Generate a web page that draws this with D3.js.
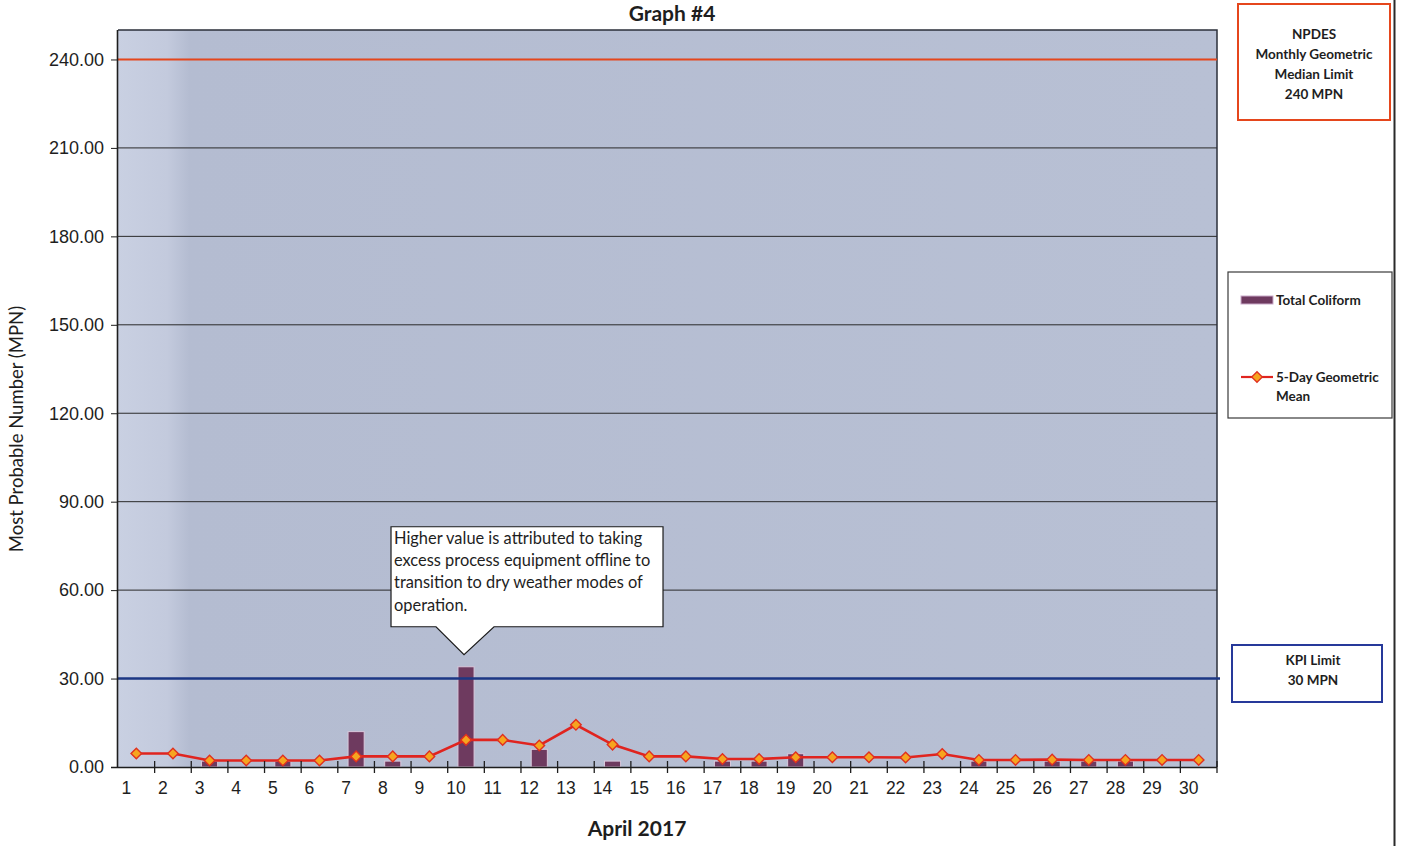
<!DOCTYPE html>
<html>
<head>
<meta charset="utf-8">
<script src="https://cdn.jsdelivr.net/npm/d3@7/dist/d3.min.js"></script>
<style>
  body { margin: 0; background: #ffffff; }
  svg { display: block; font-family: Lato, "Open Sans", "Noto Sans", sans-serif; }
</style>
</head>
<body>
<svg id="chart" width="1405" height="846"></svg>
<script>
// ---- data ----
const dayLabels = ["1","2","3","4","5","6","7","8","9","10","11","12","13","14","15",
                   "16","17","18","19","20","21","22","23","24","25","26","27","28","29","30"];
// daily Total Coliform (MPN); null = no bar shown
const totalColiform = [null, null, 2, null, 2, null, 12, 2, null, 34, null, 6, null, 2, null,
                       null, 2, 2, 4.5, null, null, null, null, 2, null, 2, 2, 2, null, null];
// 5-day geometric mean (MPN)
const geoMean5Day = [4.6, 4.6, 2.2, 2.2, 2.2, 2.2, 3.6, 3.6, 3.6, 9.2, 9.2, 7.3, 14.3, 7.6, 3.6,
                     3.6, 2.7, 2.7, 3.3, 3.3, 3.3, 3.2, 4.4, 2.4, 2.4, 2.5, 2.4, 2.4, 2.4, 2.4];
const yTickValues = [0, 30, 60, 90, 120, 150, 180, 210, 240];
const npdesLimit = 240;
const kpiLimit = 30;
const calloutDay = "10";
const calloutLines = ["Higher value is attributed to taking",
                      "excess process equipment offline to",
                      "transition to dry weather modes of",
                      "operation."];

// ---- layout ----
const plot = { left: 118, top: 30, right: 1217, bottom: 767 };
const svg = d3.select("#chart");
const ink = "#1e1e1e";

const x = d3.scaleBand().domain(dayLabels).range([plot.left, plot.right]);
const y = d3.scaleLinear().domain([0, 250]).range([plot.bottom, plot.top]);
const cx = d => x(d) + x.bandwidth() / 2;

// plot background (slightly lighter at the left edge)
const defs = svg.append("defs");
const grad = defs.append("linearGradient").attr("id", "plotBg").attr("x1", 0).attr("x2", 1);
grad.append("stop").attr("offset", "0%").attr("stop-color", "#c9d0e2");
grad.append("stop").attr("offset", "4.5%").attr("stop-color", "#c3cadd");
grad.append("stop").attr("offset", "6.5%").attr("stop-color", "#b4bcd1");
grad.append("stop").attr("offset", "100%").attr("stop-color", "#b8c0d4");

svg.append("rect")
  .attr("x", plot.left).attr("y", plot.top)
  .attr("width", plot.right - plot.left).attr("height", plot.bottom - plot.top)
  .attr("fill", "url(#plotBg)");

// horizontal gridlines
svg.append("g").selectAll("line")
  .data(yTickValues.filter(v => v > 0))
  .join("line")
  .attr("x1", plot.left).attr("x2", plot.right)
  .attr("y1", d => y(d)).attr("y2", d => y(d))
  .attr("stroke", "#2a2a2a").attr("stroke-width", 1);

// plot frame top / right
svg.append("path")
  .attr("d", `M${plot.left},${plot.top}H${plot.right}V${plot.bottom}`)
  .attr("fill", "none").attr("stroke", "#2b2f3a").attr("stroke-width", 1.5);

// Total Coliform bars
const barW = x.bandwidth() * 0.44;
svg.append("g").selectAll("rect")
  .data(dayLabels.map((d, i) => ({ day: d, v: totalColiform[i] })).filter(d => d.v != null))
  .join("rect")
  .attr("x", d => cx(d.day) - barW / 2)
  .attr("y", d => y(d.v))
  .attr("width", barW)
  .attr("height", d => y(0) - y(d.v))
  .attr("fill", "#6e3a5f")
  .attr("stroke", "#d9c9dc").attr("stroke-width", 1);

// KPI limit line
svg.append("line")
  .attr("x1", plot.left).attr("x2", plot.right + 3)
  .attr("y1", y(kpiLimit)).attr("y2", y(kpiLimit))
  .attr("stroke", "#1c3784").attr("stroke-width", 2.6);

// NPDES limit line
svg.append("line")
  .attr("x1", plot.left).attr("x2", plot.right)
  .attr("y1", y(npdesLimit)).attr("y2", y(npdesLimit))
  .attr("stroke", "#e5461c").attr("stroke-width", 2.2);

// 5-day geometric mean line + diamond markers
const meanPts = dayLabels.map((d, i) => ({ day: d, v: geoMean5Day[i] }));
svg.append("path")
  .datum(meanPts)
  .attr("fill", "none")
  .attr("stroke", "#e0241f").attr("stroke-width", 2.6)
  .attr("d", d3.line().x(d => cx(d.day)).y(d => y(d.v)));

const diamond = d3.symbol(d3.symbolSquare, 56);
svg.append("g").selectAll("path")
  .data(meanPts)
  .join("path")
  .attr("d", diamond)
  .attr("transform", d => `translate(${cx(d.day)},${y(d.v)}) rotate(45)`)
  .attr("fill", "#f6a51f").attr("stroke", "#e0301f").attr("stroke-width", 1.4);

// y axis
const yAxis = svg.append("g")
  .attr("transform", `translate(${plot.left},0)`)
  .call(d3.axisLeft(y).tickValues(yTickValues).tickFormat(d3.format(".2f")).tickSize(7).tickPadding(7));
yAxis.select(".domain").attr("stroke", ink).attr("stroke-width", 1.6)
  .attr("d", `M-0.5,${plot.top}V${plot.bottom}`);
yAxis.selectAll(".tick line").attr("stroke", ink);
yAxis.selectAll(".tick text").attr("fill", ink).style("font-size", "18px");

// x axis: labels under each day, crossing ticks at category boundaries
const xAxis = svg.append("g")
  .attr("transform", `translate(0,${plot.bottom})`)
  .call(d3.axisBottom(x).tickSize(0).tickPadding(15));
xAxis.select(".domain").attr("stroke", ink).attr("stroke-width", 1.6)
  .attr("d", `M${plot.left - 7},0.5H${plot.right}`);
xAxis.selectAll(".tick text").attr("fill", ink).attr("dx", -10).style("font-size", "17.5px");
xAxis.append("g").selectAll("line")
  .data(dayLabels)
  .join("line")
  .attr("x1", d => x(d) + x.bandwidth()).attr("x2", d => x(d) + x.bandwidth())
  .attr("y1", -6).attr("y2", 6)
  .attr("stroke", ink).attr("stroke-width", 1.3);

// axis titles
svg.append("text")
  .attr("transform", "translate(23,429) rotate(-90)")
  .attr("text-anchor", "middle")
  .attr("fill", ink).style("font-size", "18.5px")
  .text("Most Probable Number (MPN)");

svg.append("text")
  .attr("x", 637).attr("y", 836)
  .attr("text-anchor", "middle")
  .attr("fill", ink).style("font-size", "21px").style("font-weight", "bold")
  .text("April 2017");

// chart title
svg.append("text")
  .attr("x", 672).attr("y", 21)
  .attr("text-anchor", "middle")
  .attr("fill", ink).style("font-size", "21px").style("font-weight", "bold")
  .text("Graph #4");

// callout pointing at the highest bar
const tipX = cx(calloutDay) - 2;
const tipY = y(totalColiform[dayLabels.indexOf(calloutDay)]) - 12;
const box = { x: tipX - 73, y: tipY - 128, w: 272, h: 100 };
const co = svg.append("g");
co.append("path")
  .attr("d", `M${box.x},${box.y}H${box.x + box.w}V${box.y + box.h}H${tipX + 30}L${tipX},${tipY}L${tipX - 28},${box.y + box.h}H${box.x}Z`)
  .attr("fill", "#ffffff").attr("stroke", "#1a1a1a").attr("stroke-width", 1.2);
co.selectAll("text")
  .data(calloutLines)
  .join("text")
  .attr("x", box.x + 3)
  .attr("y", (d, i) => box.y + 17 + i * 22.3)
  .attr("fill", ink).style("font-size", "16.4px")
  .text(d => d);

// chart area right border
svg.append("line")
  .attr("x1", 1394.5).attr("x2", 1394.5).attr("y1", 0).attr("y2", 846)
  .attr("stroke", "#2a2a2a").attr("stroke-width", 2);

// NPDES limit label box
const npdes = svg.append("g");
npdes.append("rect")
  .attr("x", 1238).attr("y", 4).attr("width", 152).attr("height", 116)
  .attr("fill", "#ffffff").attr("stroke", "#e5461c").attr("stroke-width", 2);
npdes.selectAll("text")
  .data(["NPDES", "Monthly Geometric", "Median Limit", `${npdesLimit} MPN`])
  .join("text")
  .attr("x", 1314).attr("y", (d, i) => 38.5 + i * 20)
  .attr("text-anchor", "middle")
  .attr("fill", ink).style("font-size", "13.5px").style("font-weight", "bold")
  .text(d => d);

// KPI limit label box
const kpi = svg.append("g");
kpi.append("rect")
  .attr("x", 1232).attr("y", 645).attr("width", 150).attr("height", 57)
  .attr("fill", "#ffffff").attr("stroke", "#26399a").attr("stroke-width", 2);
kpi.selectAll("text")
  .data(["KPI Limit", `${kpiLimit} MPN`])
  .join("text")
  .attr("x", 1313).attr("y", (d, i) => 665 + i * 20)
  .attr("text-anchor", "middle")
  .attr("fill", ink).style("font-size", "13.5px").style("font-weight", "bold")
  .text(d => d);

// legend
const lg = svg.append("g");
lg.append("rect")
  .attr("x", 1228).attr("y", 272).attr("width", 164).attr("height", 146)
  .attr("fill", "#ffffff").attr("stroke", "#3a3a3a").attr("stroke-width", 1.2);
lg.append("rect")
  .attr("x", 1241).attr("y", 296).attr("width", 32).attr("height", 8)
  .attr("fill", "#6e3a5f").attr("stroke", "#c9a9c9").attr("stroke-width", 1);
lg.append("text")
  .attr("x", 1276).attr("y", 304.5)
  .attr("fill", ink).style("font-size", "13.5px").style("font-weight", "bold")
  .text("Total Coliform");
lg.append("line")
  .attr("x1", 1241).attr("x2", 1273).attr("y1", 377).attr("y2", 377)
  .attr("stroke", "#e0241f").attr("stroke-width", 2.2);
lg.append("path")
  .attr("d", diamond)
  .attr("transform", "translate(1257,377) rotate(45)")
  .attr("fill", "#f6a51f").attr("stroke", "#e0301f").attr("stroke-width", 1.3);
lg.selectAll("text.series2")
  .data(["5-Day Geometric", "Mean"])
  .join("text")
  .attr("class", "series2")
  .attr("x", 1276).attr("y", (d, i) => 381.5 + i * 19)
  .attr("fill", ink).style("font-size", "13.5px").style("font-weight", "bold")
  .text(d => d);
</script>
</body>
</html>
